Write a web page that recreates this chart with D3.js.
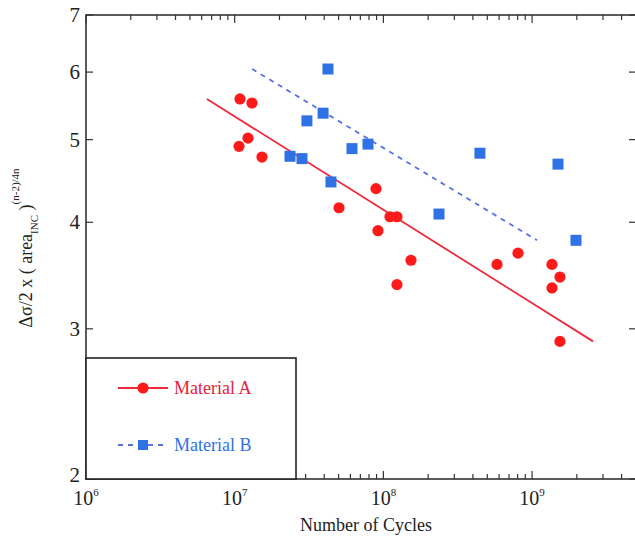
<!DOCTYPE html>
<html><head><meta charset="utf-8">
<script src="https://cdn.jsdelivr.net/npm/d3@7"></script>
<style>body{margin:0;background:#fff}svg{display:block}
text{font-family:"Liberation Serif","Tinos","Times New Roman",serif;}</style>
</head><body>
<svg id="c" width="635" height="541"></svg>
<script>
// Data (cycles, stress parameter)
const matACycles = [1.085e7,1.307e7,1.229e7,1.069e7,1.526e7,8.92e7,5.03e7,1.108e8,1.234e8,9.2e7,1.533e8,1.234e8,5.81e8,8.04e8,1.361e9,1.54e9,1.361e9,1.54e9];
const matAValues = [5.58,5.52,5.02,4.91,4.77,4.38,4.16,4.06,4.06,3.91,3.61,3.38,3.57,3.68,3.57,3.45,3.35,2.90];
const matBCycles = [4.24e7,3.93e7,3.06e7,2.355e7,2.835e7,4.44e7,6.15e7,7.88e7,2.366e8,4.46e8,1.494e9,1.974e9];
const matBValues = [6.05,5.37,5.26,4.78,4.75,4.46,4.88,4.94,4.09,4.82,4.68,3.81];
const fitACycles = [6.5e6, 2.57e9];
const fitAValues = [5.58, 2.90];
const fitBCycles = [1.31e7, 1.08e9];
const fitBValues = [6.05, 3.81];
const xTickExps = [6,7,8,9];
const yTicks = [2,3,4,5,6,7];
const seriesNames = ["Material A","Material B"];

const svg = d3.select("#c");
const L=86, R=636, T=15, B=479;
const x = d3.scaleLog().domain([1e6,5e9]).range([L,R]);
const y = d3.scaleLog().domain([2,7]).range([B,T]);
const axisCol = "#333";
const red = "#ff1a1a", redLine="#ee2a3c", blue="#2f72e6", blueLine="#5a72e0";

// minor/major x ticks
const xt = [];
for (let e=6;e<=9;e++) for (let m=1;m<=9;m++){ const v=m*Math.pow(10,e); if(v<=5e9) xt.push({v, major:m===1}); }
const g = svg.append("g");
xt.forEach(t=>{
  const px=x(t.v), len=t.major?8:5;
  g.append("line").attr("x1",px).attr("x2",px).attr("y1",B).attr("y2",B-len).attr("stroke",axisCol).attr("stroke-width",1.2);
  g.append("line").attr("x1",px).attr("x2",px).attr("y1",T).attr("y2",T+len).attr("stroke",axisCol).attr("stroke-width",1.2);
});
yTicks.forEach(v=>{
  const py=y(v);
  g.append("line").attr("x1",L).attr("x2",L+7).attr("y1",py).attr("y2",py).attr("stroke",axisCol).attr("stroke-width",1.2);
  g.append("line").attr("x1",R).attr("x2",R-7).attr("y1",py).attr("y2",py).attr("stroke",axisCol).attr("stroke-width",1.2);
  g.append("text").attr("x",L-6).attr("y",py+(v===2?-4:0)).attr("dy","0.33em").attr("text-anchor","end")
    .attr("font-size",21).attr("fill","#222").text(v);
});
xTickExps.forEach(e=>{
  const t = g.append("text").attr("x",x(Math.pow(10,e))).attr("y",505).attr("text-anchor","middle")
    .attr("font-size",20).attr("fill","#222");
  t.append("tspan").text("10");
  t.append("tspan").attr("dy",-9).attr("font-size",11).text(e);
});
// frame
g.append("rect").attr("x",L).attr("y",T).attr("width",R-L).attr("height",B-T).attr("fill","none").attr("stroke",axisCol).attr("stroke-width",1.6);

// axis titles
svg.append("text").attr("x",366).attr("y",531).attr("text-anchor","middle")
  .attr("font-size",18).attr("fill","#222").text("Number of Cycles");
const yl = svg.append("text").attr("transform","translate(32,248) rotate(-90)").attr("text-anchor","middle")
  .attr("font-size",18).attr("fill","#222");
yl.append("tspan").text("Δσ/2 x ( area");
yl.append("tspan").attr("dy",6).attr("font-size",11).text("INC");
yl.append("tspan").attr("dy",-6).text(" )");
yl.append("tspan").attr("dy",-13).attr("font-size",11).text("(n-2)/4n");

// fit lines
const line = d3.line().x(d=>x(d[0])).y(d=>y(d[1]));
svg.append("path").datum(d3.zip(fitACycles,fitAValues)).attr("d",line).attr("fill","none").attr("stroke",redLine).attr("stroke-width",1.8);
svg.append("path").datum(d3.zip(fitBCycles,fitBValues)).attr("d",line).attr("fill","none").attr("stroke",blueLine).attr("stroke-width",1.8).attr("stroke-dasharray","5,5");

// points
const sq=11;
svg.append("g").selectAll("rect").data(d3.zip(matBCycles,matBValues)).join("rect")
  .attr("x",d=>x(d[0])-sq/2).attr("y",d=>y(d[1])-sq/2).attr("width",sq).attr("height",sq).attr("fill",blue);
svg.append("g").selectAll("circle").data(d3.zip(matACycles,matAValues)).join("circle")
  .attr("cx",d=>x(d[0])).attr("cy",d=>y(d[1])).attr("r",5.6).attr("fill",red);

// legend
const lg = svg.append("g");
lg.append("rect").attr("x",L).attr("y",358).attr("width",210).attr("height",B-358).attr("fill","#fff").attr("stroke","#222").attr("stroke-width",1.6);
const ly=[388,445];
lg.append("line").attr("x1",118).attr("x2",168).attr("y1",ly[0]).attr("y2",ly[0]).attr("stroke",redLine).attr("stroke-width",1.8);
lg.append("circle").attr("cx",143).attr("cy",ly[0]).attr("r",5.6).attr("fill",red);
lg.append("line").attr("x1",118).attr("x2",168).attr("y1",ly[1]).attr("y2",ly[1]).attr("stroke",blueLine).attr("stroke-width",1.8).attr("stroke-dasharray","5,5");
lg.append("rect").attr("x",143-5).attr("y",ly[1]-5).attr("width",10).attr("height",10).attr("fill",blue);
lg.append("text").attr("x",174).attr("y",ly[0]).attr("dy","0.33em").attr("font-size",18).attr("fill","#e8203a").text(seriesNames[0]);
lg.append("text").attr("x",174).attr("y",ly[1]).attr("dy","0.33em").attr("font-size",18).attr("fill","#2f72e6").text(seriesNames[1]);
</script>
</body></html>
